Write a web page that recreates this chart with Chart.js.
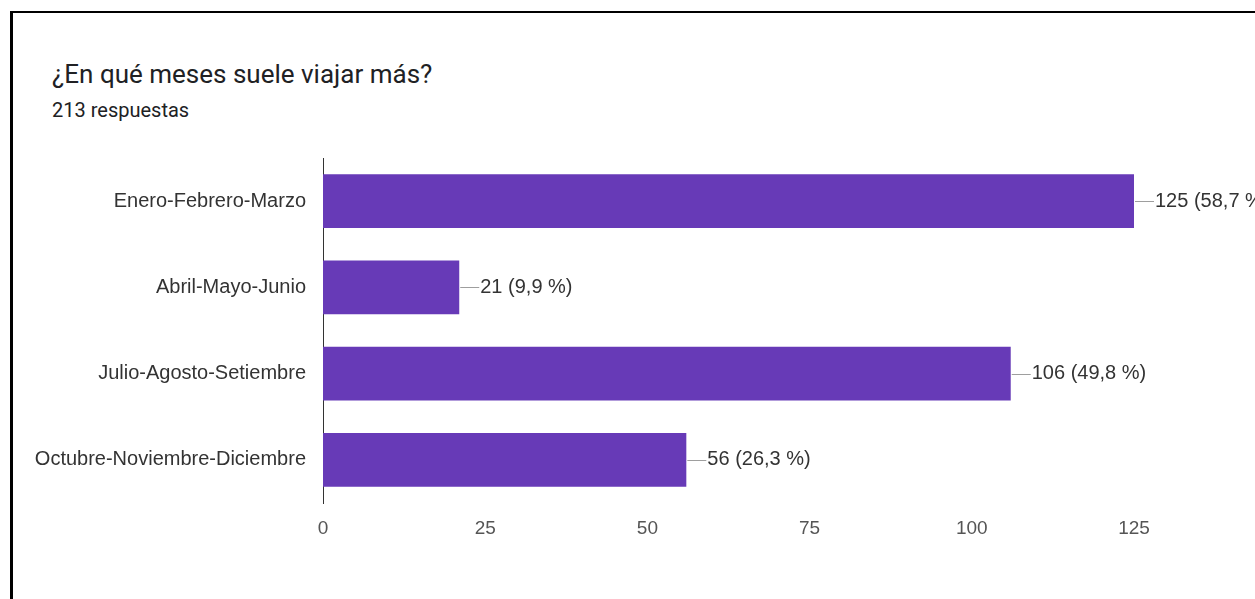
<!DOCTYPE html>
<html><head><meta charset="utf-8">
<script src="https://cdn.jsdelivr.net/npm/chart.js@4.4.1/dist/chart.umd.min.js"></script>
<style>
html,body{margin:0;padding:0;background:#fff;}
#wrap{position:relative;width:1255px;height:599px;overflow:hidden;background:#fff;}
#frame{position:absolute;left:10px;top:11px;width:1260px;height:600px;border-left:3px solid #000;border-top:2px solid #000;}
#title{position:absolute;left:52px;top:59px;font-family:Roboto,sans-serif;font-size:26px;line-height:30px;color:#202124;white-space:nowrap;}
#sub{position:absolute;left:52px;top:98px;font-family:Roboto,sans-serif;font-size:20px;line-height:24px;color:#202124;white-space:nowrap;}
canvas{position:absolute;left:0;top:0;}
</style></head>
<body><div id="wrap"><div id="frame"></div>
<div id="title">¿En qué meses suele viajar más?</div>
<div id="sub">213 respuestas</div>
<canvas id="c" width="1255" height="599"></canvas></div>
<script>
const categories = ["Enero-Febrero-Marzo","Abril-Mayo-Junio","Julio-Agosto-Setiembre","Octubre-Noviembre-Diciembre"];
const counts = [125, 21, 106, 56];
const percents = ["58,7", "9,9", "49,8", "26,3"];
const xTicks = [0, 25, 50, 75, 100, 125];

const labelPlugin = {
  id: 'barLabels',
  afterDatasetsDraw(chart) {
    const ctx = chart.ctx;
    const meta = chart.getDatasetMeta(0);
    ctx.save();
    meta.data.forEach((bar, i) => {
      const x = bar.x, y = bar.y;
      ctx.strokeStyle = '#9e9e9e';
      ctx.lineWidth = 1;
      ctx.beginPath();
      ctx.moveTo(x + 1, Math.round(y) + 0.5);
      ctx.lineTo(x + 20, Math.round(y) + 0.5);
      ctx.stroke();
      ctx.fillStyle = '#333';
      ctx.font = '20px "Liberation Sans", Arial, sans-serif';
      ctx.textBaseline = 'middle';
      ctx.textAlign = 'left';
      ctx.fillText(counts[i] + ' (' + percents[i] + ' %)', x + 21, y);
    });
    ctx.restore();
  }
};

new Chart(document.getElementById('c'), {
  type: 'bar',
  data: {
    labels: categories,
    datasets: [{ data: counts, backgroundColor: '#673ab7', barPercentage: 0.625, categoryPercentage: 1 }]
  },
  options: {
    indexAxis: 'y',
    responsive: false,
    animation: false,
    layout: { padding: { left: 0, right: 121, top: 158, bottom: 0 } },
    plugins: { legend: { display: false }, tooltip: { enabled: false } },
    scales: {
      x: {
        min: 0, max: 125,
        afterBuildTicks(s) { s.ticks = xTicks.map(v => ({ value: v })); },
        afterFit(s) { s.height = 599 - 503; },
        grid: { display: false, drawTicks: false },
        border: { display: false },
        ticks: { padding: 14, color: '#555', font: { family: '"Liberation Sans", Arial, sans-serif', size: 19 } }
      },
      y: {
        afterFit(s) { s.width = 323; },
        grid: { display: false, drawTicks: false },
        border: { display: true, color: '#333', width: 1 },
        ticks: { padding: 17, color: '#333', font: { family: '"Liberation Sans", Arial, sans-serif', size: 20 } }
      }
    }
  },
  plugins: [labelPlugin]
});
</script></body></html>
